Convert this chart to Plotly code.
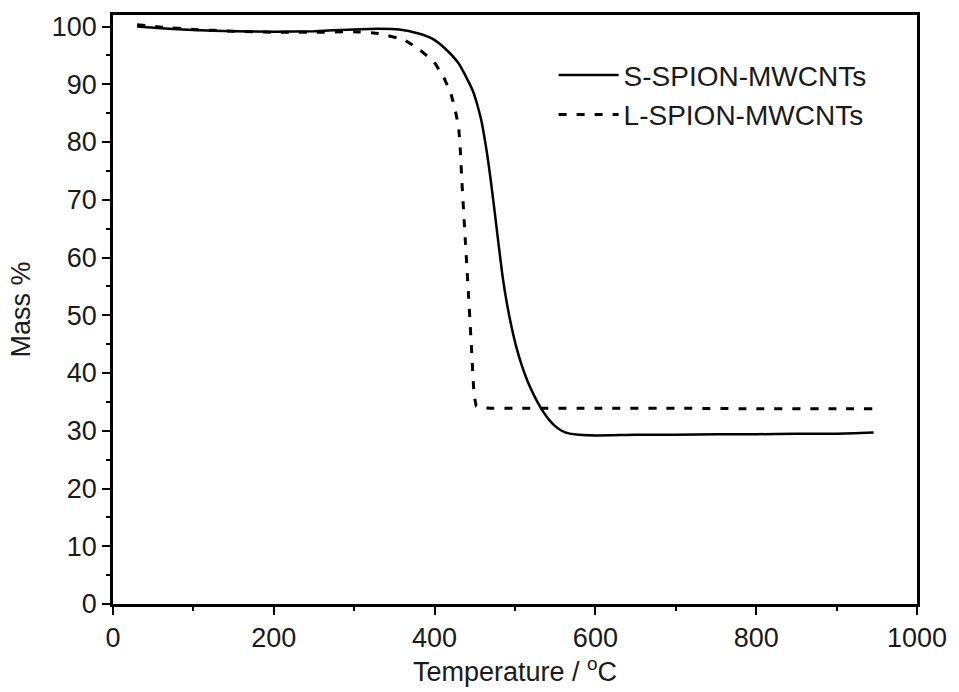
import plotly.graph_objects as go

# Thermogravimetric curves (mass % vs temperature)
temp_s = [30, 60, 100, 150, 200, 250, 300, 330, 356, 380, 397, 413, 430, 442,
          448, 453, 458, 462, 466, 470, 475, 480, 485, 490, 496, 502, 508, 515,
          522, 529, 536, 543, 550, 558, 568, 580, 600, 650, 700, 750, 800, 850,
          900, 946]
mass_s = [100.0, 99.7, 99.4, 99.2, 99.1, 99.2, 99.5, 99.6, 99.5, 98.8, 97.9,
          96.2, 93.6, 90.5, 88.7, 86.5, 83.8, 80.8, 77.3, 73.2, 67.6, 61.8,
          56.3, 52.0, 47.8, 44.3, 41.5, 38.8, 36.6, 34.7, 33.1, 31.8, 30.8,
          30.0, 29.5, 29.3, 29.2, 29.3, 29.3, 29.4, 29.4, 29.5, 29.5, 29.7]

temp_l = [30, 60, 100, 150, 200, 250, 300, 330, 362, 382, 399, 411, 420, 426,
          430, 432, 434, 438, 442, 446, 449, 452, 456, 470, 500, 600, 700, 800,
          900, 946]
mass_l = [100.3, 99.9, 99.5, 99.2, 99.0, 99.0, 99.1, 98.8, 97.7, 95.9, 93.9,
          91.3, 88.5, 85.3, 82.4, 78.5, 73.0, 63.5, 54.0, 44.0, 36.5, 34.2,
          34.0, 33.9, 33.9, 33.9, 33.9, 33.8, 33.8, 33.8]

x_ticks = [0, 200, 400, 600, 800, 1000]
y_ticks = [0, 10, 20, 30, 40, 50, 60, 70, 80, 90, 100]

font_family = "Liberation Sans, Arial, sans-serif"
text_color = "#1a1a1a"

fig = go.Figure()
fig.add_trace(go.Scatter(
    x=temp_s, y=mass_s, mode="lines", name="S-SPION-MWCNTs",
    line=dict(color="black", width=2.5, shape="spline", smoothing=0.6),
))
fig.add_trace(go.Scatter(
    x=temp_l, y=mass_l, mode="lines", name="L-SPION-MWCNTs",
    line=dict(color="black", width=3, dash="8px,10px", shape="spline", smoothing=0.3),
))

axis_common = dict(
    showline=True, linecolor="black", linewidth=2.5, mirror=True,
    ticks="outside", ticklen=8, tickwidth=2, tickcolor="black",
    showgrid=False, zeroline=False,
    tickfont=dict(family=font_family, size=27, color=text_color),
)

fig.update_xaxes(
    range=[0, 1000], tickvals=x_ticks,
    minor=dict(dtick=100, ticks="outside", ticklen=4, tickwidth=2, tickcolor="black"),
    title=dict(text="Temperature / <sup>o</sup>C",
               font=dict(family=font_family, size=27, color=text_color), standoff=0),
    **axis_common,
)
fig.update_yaxes(
    range=[0, 102], tickvals=y_ticks,
    minor=dict(dtick=5, ticks="outside", ticklen=4, tickwidth=2, tickcolor="black"),
    title=dict(text="Mass %", font=dict(family=font_family, size=27, color=text_color),
               standoff=14),
    **axis_common,
)

fig.update_layout(
    width=959, height=692,
    margin=dict(l=113, r=39, t=13, b=88),
    plot_bgcolor="white", paper_bgcolor="white",
    showlegend=True,
    legend=dict(
        x=0.548, y=0.94, xanchor="left", yanchor="top",
        bgcolor="rgba(0,0,0,0)",
        font=dict(family=font_family, size=28, color=text_color),
        itemwidth=60,
    ),
)

fig.write_html("out.html")
